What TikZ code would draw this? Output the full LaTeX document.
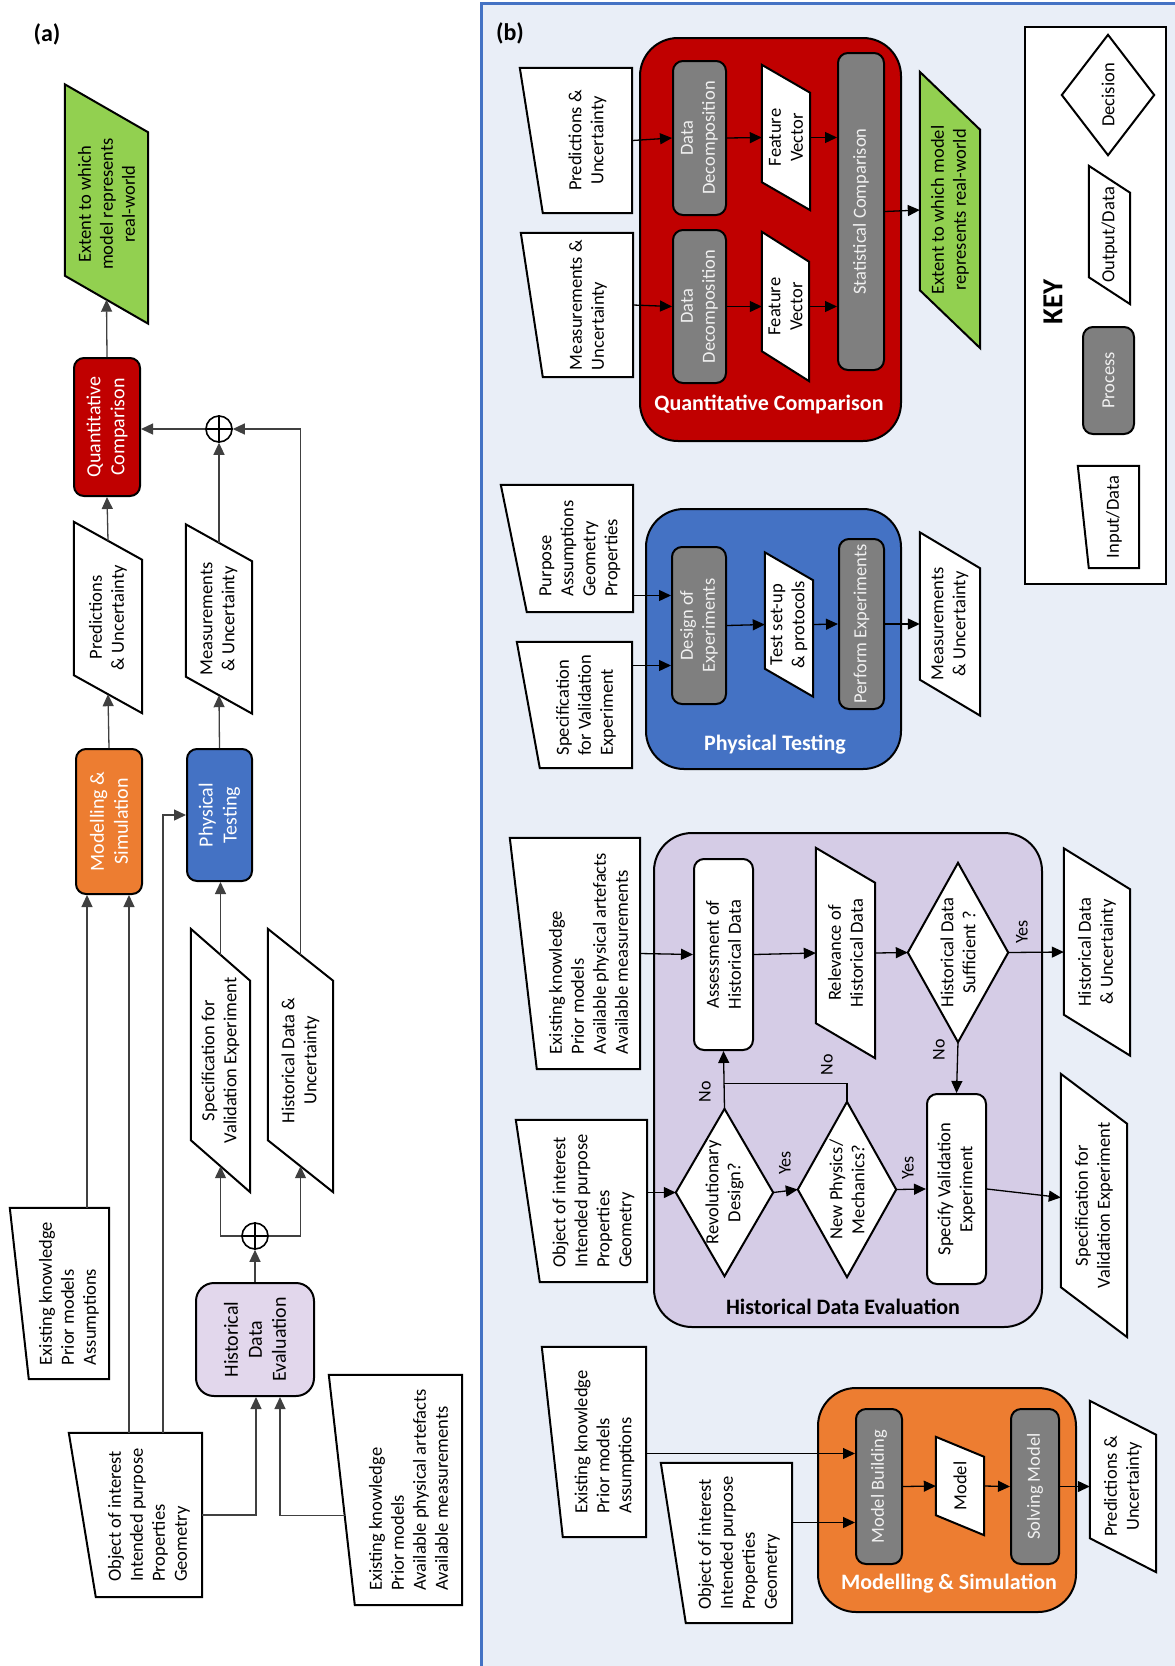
\documentclass[tikz,border=0pt]{standalone}
\usepackage{fontspec}
\setmainfont{Carlito}
\usetikzlibrary{calc,positioning,arrows.meta,shapes.geometric}

\pgfdeclarelayer{backpanel}
\pgfdeclarelayer{groupbox}
\pgfdeclarelayer{outline}
\pgfsetlayers{backpanel,groupbox,outline,main}

\definecolor{qcred}{HTML}{C00000}
\definecolor{msorange}{HTML}{ED7D31}
\definecolor{ptblue}{HTML}{4472C4}
\definecolor{okgreen}{HTML}{92D050}
\definecolor{hdlilac}{HTML}{E2D7EC}
\definecolor{hdlilacb}{HTML}{D5CCE6}
\definecolor{procgray}{HTML}{7F7F7F}
\definecolor{panelbg}{HTML}{E9EEF7}

\tikzset{
    txt/.style={rotate=90, inner sep=0pt, font=\fontsize{18.5}{22}\selectfont},
    boxsize/.style 2 args={minimum width=#1pt, minimum height=#2pt},
    inbox/.style={txt, align=left},
    outbox/.style={txt, align=center},
    proc/.style={txt, draw, line width=2pt, rounded corners=10pt, fill=procgray,
        text=white!88!gray, align=center},
    stage/.style={proc, text=white, font=\fontsize{20}{24}\selectfont},
    whitebox/.style={proc, fill=white, text=black},
    shapeline/.style={draw, line width=2pt, fill=white},
    stagegroup/.style={draw, line width=2pt, rounded corners=38pt, inner sep=0pt},
    grouptitle/.style={font=\fontsize{22}{26}\selectfont\bfseries, text=white, inner sep=0pt},
    oplus/.style={circle, draw, line width=1.6pt, minimum size=26pt, inner sep=0pt},
    link/.style={line width=1.3pt, black!75},
    flow/.style={line width=1.3pt},
    answer/.style={rotate=90, inner sep=0pt, font=\fontsize{18}{22}\selectfont},
    panellabel/.style={font=\fontsize{24}{28}\selectfont\bfseries}
}

% manual input outline round a rotated node (name, slant)
\newcommand{\inshape}[2]{%
    \begin{pgfonlayer}{outline}
    \draw[shapeline] ([xshift=-#2pt]#1.north east) -- (#1.south east)
        -- (#1.south west) -- (#1.north west) -- cycle;
    \end{pgfonlayer}}
% data parallelogram round a rotated node (fill, name, half slant)
\newcommand{\outshape}[3][white]{%
    \begin{pgfonlayer}{outline}
    \draw[shapeline, fill=#1] ([yshift=#3pt]#2.north east) -- ([yshift=-#3pt]#2.south east)
        -- ([yshift=-#3pt]#2.south west) -- ([yshift=#3pt]#2.north west) -- cycle;
    \end{pgfonlayer}}
% decision diamond round a node
\newcommand{\diashape}[1]{%
    \begin{pgfonlayer}{outline}
    \draw[shapeline] (#1.north) -- (#1.east) -- (#1.south) -- (#1.west) -- cycle;
    \end{pgfonlayer}}

\begin{document}
\begin{tikzpicture}[x=1pt, y=-1pt, >={Triangle[length=12pt,width=11pt]}]
    \useasboundingbox (0,0) rectangle (1175,1666);

    % panel (b) background
    \begin{pgfonlayer}{backpanel}
        \fill[panelbg] (481,3) rectangle (1175,1666);
        \draw[ptblue, line width=3pt] (481,1666) -- (481,3) -- (1175,3);
    \end{pgfonlayer}

    %% (a) overview
    \node[panellabel] (labela) at (47,34) {(a)};
    \node[outbox, boxsize={191}{83}] (ga) at (106.5,204) {Extent to which\\model represents\\real-world};
    \outshape[okgreen]{ga}{24}
    \node[stage, fill=qcred, boxsize={138}{66}] (qca) at (107,427) {Quantitative\\Comparison};
    \node[oplus] (opa) at (219,429) {};
    \draw[line width=1.6pt] (opa.north) -- (opa.south) (opa.east) -- (opa.west);
    \node[outbox, boxsize={153}{68}] (pa) at (108,617.5) {Predictions\\\& Uncertainty};
    \outshape{pa}{19}
    \node[outbox, boxsize={152}{66}] (ma) at (219,619) {Measurements\\\& Uncertainty};
    \outshape{ma}{18.5}
    \node[stage, fill=msorange, boxsize={145}{66}] (msa) at (109,821.5) {Modelling \&\\Simulation};
    \node[stage, fill=ptblue, boxsize={132}{65}] (pta) at (219.5,815) {Physical\\Testing};
    \node[outbox, boxsize={211}{59}] (sa) at (220.5,1060.5) {Specification for\\Validation Experiment};
    \outshape{sa}{26}
    \node[outbox, boxsize={211}{65}] (ha) at (300.5,1060.5) {Historical Data \&\\Uncertainty};
    \outshape{ha}{26}
    \node[oplus] (opb) at (255,1236) {};
    \draw[line width=1.6pt] (opb.north) -- (opb.south) (opb.east) -- (opb.west);
    \node[stage, fill=hdlilac, text=black, rounded corners=18pt, boxsize={113}{118}] (hdea) at (255,1339.5) {Historical\\Data\\Evaluation};
    \node[inbox, boxsize={171}{80}] (eka) at (69,1293.5) {Existing knowledge\\Prior models\\Assumptions};
    \inshape{eka}{19}
    \node[inbox, boxsize={164}{106}] (oia) at (149,1515) {Object of interest\\Intended purpose\\Properties\\Geometry};
    \inshape{oia}{27}
    \node[inbox, boxsize={230}{107}] (ekb) at (408.5,1490) {Existing knowledge\\Prior models\\Available physical artefacts\\Available measurements};
    \inshape{ekb}{26}

    \draw[link,->] (qca.east) -- (ga.west);
    \draw[link,->] (pa.east) -- (qca.west);
    \draw[link,->] (opa.west) -- (opa.west -| qca.south);
    \draw[link,->] (ma.east) -- (opa.south);
    \draw[link,->] (ha.east) |- (opa.east);
    \draw[link,->] (msa.east) -- (pa.west);
    \draw[link,->] (pta.east) -- (ma.west);
    \draw[link,->] ([xshift=-22pt]msa.west |- eka.east) -- ([xshift=-22pt]msa.west);
    \draw[link,->] ([xshift=20pt]msa.west |- oia.east) -- ([xshift=20pt]msa.west);
    \draw[link,->] ([xshift=14pt]oia.east) |- (pta.north);
    \draw[link,->] (sa.east) -- (sa.east |- pta.west);
    \draw[link,->] (hdea.east) -- (opb.south);
    \draw[link,->] (opb.west) -| (sa.west);
    \draw[link,->] (opb.east) -| (ha.west);
    \draw[link,->] (oia.south) -| ([xshift=1pt]hdea.west);
    \draw[link,->] ($([xshift=-26pt]ekb.north east)!0.61!(ekb.north west)$) -| ([xshift=25pt]hdea.west);

    %% (b) detail
    \node[panellabel] (labelb) at (510,33) {(b)};

    % quantitative comparison
    \begin{pgfonlayer}{groupbox}
        \node[stagegroup, fill=qcred, minimum width=261pt, minimum height=403pt] (qcb) at (770.5,239.5) {};
    \end{pgfonlayer}
    \node[grouptitle] (qcbtitle) at (769,404) {Quantitative Comparison};
    \node[inbox, align=center, boxsize={145}{89}] (pub) at (587.5,140.5) {Predictions \&\\Uncertainty};
    \inshape{pub}{23}
    \node[inbox, boxsize={144}{90}] (mub) at (588,305) {Measurements \&\\Uncertainty};
    \inshape{mub}{22}
    \node[proc, boxsize={154}{53}] (dda) at (699.5,138) {Data\\Decomposition};
    \node[proc, boxsize={153}{53}] (ddb) at (699.5,306.5) {Data\\Decomposition};
    \node[outbox, boxsize={117}{48}] (fva) at (786,137.5) {Feature\\Vector};
    \outshape{fva}{14}
    \node[outbox, boxsize={119}{47}] (fvb) at (785.5,306.5) {Feature\\Vector};
    \outshape{fvb}{15}
    \node[proc, boxsize={317}{46}] (stc) at (861,211.5) {Statistical Comparison};
    \node[outbox, boxsize={218}{60}] (gb) at (950,210) {Extent to which model\\represents real-world};
    \outshape[okgreen]{gb}{29}

    \draw[flow,->] (pub.south) -- (dda.north);
    \draw[flow,->] (mub.south) -- (ddb.north);
    \draw[flow,->] (dda.south) -- (fva.north);
    \draw[flow,->] (ddb.south) -- (fvb.north);
    \draw[flow,->] (fva.south) -- (fva.south -| stc.north);
    \draw[flow,->] (fvb.south) -- (fvb.south -| stc.north);
    \draw[flow,->] (stc.south) -- (gb.north);

    % key
    \begin{pgfonlayer}{groupbox}
        \node[draw, line width=2pt, fill=white, minimum width=141pt, minimum height=557pt, inner sep=0pt] (key) at (1095.5,305.5) {};
    \end{pgfonlayer}
    \node[txt, font=\fontsize{29}{32}\selectfont\bfseries] (keytitle) at (1053,302) {KEY};
    \node[txt, boxsize={120}{92}] (keydec) at (1108,95) {Decision};
    \diashape{keydec}
    \node[outbox, boxsize={111}{41}] (keyout) at (1109.5,235) {Output/Data};
    \outshape{keyout}{13.5}
    \node[proc, boxsize={107}{51}] (keyproc) at (1108.5,380.5) {Process};
    \node[inbox, boxsize={102}{50}] (keyin) at (1114,517) {Input/Data};
    \inshape{keyin}{11}

    % physical testing
    \begin{pgfonlayer}{groupbox}
        \node[stagegroup, fill=ptblue, minimum width=255pt, minimum height=260pt] (ptb) at (773.5,639) {};
    \end{pgfonlayer}
    \node[grouptitle] (ptbtitle) at (775,745) {Physical Testing};
    \node[inbox, boxsize={127}{106}] (pab) at (580,548.5) {Purpose\\Assumptions\\Geometry\\Properties};
    \inshape{pab}{26}
    \node[inbox, boxsize={126}{92}] (svb) at (586,705) {Specification\\for Validation\\Experiment};
    \inshape{svb}{23}
    \node[proc, boxsize={157}{54}] (doe) at (699,625.5) {Design of\\Experiments};
    \node[outbox, boxsize={116}{48}] (tsp) at (789,624.5) {Test set-up\\\& protocols};
    \outshape{tsp}{14}
    \node[proc, boxsize={170}{45}] (pex) at (861.5,624) {Perform Experiments};
    \node[outbox, boxsize={147}{60}] (mob) at (950,624) {Measurements\\\& Uncertainty};
    \outshape{mob}{18}

    \draw[flow,->] ([yshift=30pt]doe.north -| pab.south) -- ([yshift=30pt]doe.north);
    \draw[flow,->] ([yshift=-40pt]doe.north -| svb.south) -- ([yshift=-40pt]doe.north);
    \draw[flow,->] (doe.south) -- (tsp.north);
    \draw[flow,->] (tsp.south) -- (pex.north);
    \draw[flow,->] (pex.south) -- (mob.north);

    % historical data evaluation
    \begin{pgfonlayer}{groupbox}
        \node[stagegroup, fill=hdlilacb, minimum width=388pt, minimum height=494pt] (hdb) at (848,1080) {};
    \end{pgfonlayer}
    \node[grouptitle, text=black] (hdbtitle) at (843,1307) {Historical Data Evaluation};
    \node[inbox, boxsize={231}{103}] (ekc) at (588.5,953.5) {Existing knowledge\\Prior models\\Available physical artefacts\\Available measurements};
    \inshape{ekc}{27}
    \node[whitebox, boxsize={191}{59}] (asm) at (723.5,954.5) {Assessment of\\Historical Data};
    \node[outbox, boxsize={175}{59}] (rel) at (845.5,953) {Relevance of\\Historical Data};
    \outshape{rel}{17.5}
    \node[outbox, boxsize={179}{100}] (hds) at (958,952.5) {Historical Data\\Sufficient ?};
    \diashape{hds}
    \node[outbox, boxsize={166}{66}] (hdu) at (1097,952) {Historical Data\\\& Uncertainty};
    \outshape{hdu}{20.5}
    \node[inbox, boxsize={162}{107}] (oib) at (593.5,1201) {Object of interest\\Intended purpose\\Properties\\Geometry};
    \inshape{oib}{24}
    \node[outbox, boxsize={167}{97}] (rvd) at (724.5,1192.5) {Revolutionary\\Design?};
    \diashape{rvd}
    \node[outbox, boxsize={175}{98}] (npm) at (847,1189.5) {New Physics/\\Mechanics?};
    \diashape{npm}
    \node[whitebox, boxsize={190}{59}] (sve) at (956.5,1189) {Specify Validation\\Experiment};
    \node[outbox, boxsize={213}{66}] (sfv) at (1094,1205.5) {Specification for\\Validation Experiment};
    \outshape{sfv}{25}
    \coordinate (nojoin) at ($(rvd.east)!0.44!(asm.west)$);

    \draw[flow,->] (ekc.south) -- (asm.north);
    \draw[flow,->] (asm.south) -- (rel.north);
    \draw[flow,->] (rel.south) -- (hds.north);
    \draw[flow,->] (hds.south) -- (hdu.north);
    \draw[flow,->] (hds.west) -- (sve.east);
    \draw[flow,->] (rvd.north -| oib.south) -- (rvd.north);
    \draw[flow,->] (rvd.south) -- (npm.north);
    \draw[flow,->] (npm.south) -- (sve.north);
    \draw[flow,->] (rvd.east) -- (asm.west);
    \draw[flow] (npm.east) |- (nojoin);
    \draw[flow,->] (sve.south) -- ([yshift=8pt]sfv.north);
    \node[answer] (ansa) at (1022,932) {Yes};
    \node[answer] (ansb) at (939,1050) {No};
    \node[answer] (ansc) at (785,1163) {Yes};
    \node[answer] (ansd) at (908,1168) {Yes};
    \node[answer] (anse) at (705,1092) {No};
    \node[answer] (ansf) at (827,1065) {No};

    % modelling and simulation
    \begin{pgfonlayer}{groupbox}
        \node[stagegroup, fill=msorange, minimum width=258pt, minimum height=224pt] (msb) at (947,1500) {};
    \end{pgfonlayer}
    \node[grouptitle] (msbtitle) at (949,1584) {Modelling \& Simulation};
    \node[inbox, boxsize={190}{83}] (ekd) at (604.5,1442) {Existing knowledge\\Prior models\\Assumptions};
    \inshape{ekd}{21}
    \node[inbox, boxsize={160}{106}] (oic) at (739,1543) {Object of interest\\Intended purpose\\Properties\\Geometry};
    \inshape{oic}{25}
    \node[proc, boxsize={155}{46}] (mbd) at (879,1486.5) {Model Building};
    \node[outbox, boxsize={78}{48}] (mdl) at (960,1486) {Model};
    \outshape{mdl}{10}
    \node[proc, boxsize={155}{48}] (smd) at (1035,1486.5) {Solving Model};
    \node[outbox, boxsize={137}{66}] (puc) at (1123,1486.5) {Predictions \&\\Uncertainty};
    \outshape{puc}{17}

    \draw[flow,->] ([yshift=33pt]mbd.north -| ekd.south) -- ([yshift=33pt]mbd.north);
    \draw[flow,->] ([yshift=-36pt]mbd.north -| oic.south) -- ([yshift=-36pt]mbd.north);
    \draw[flow,->] (mbd.south) -- (mdl.north);
    \draw[flow,->] (mdl.south) -- (smd.north);
    \draw[flow,->] (smd.south) -- (puc.north);
\end{tikzpicture}
\end{document}
